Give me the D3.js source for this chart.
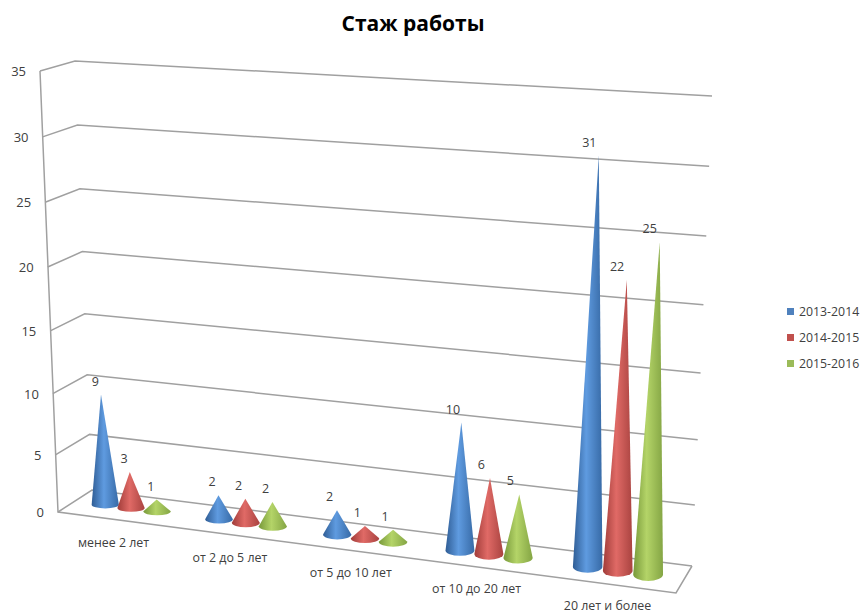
<!DOCTYPE html>
<html lang="ru">

<head>
    <meta charset="UTF-8">
    <title>Стаж работы</title>
    <script src="https://d3js.org/d3.v7.min.js"></script>
    <style>
        body { margin: 0; background: #fff; }
        text { font-family: "Open Sans", sans-serif; fill: #404040; }
        .grid { stroke: #a0a0a0; stroke-width: 1.5px; fill: none; }
    </style>
</head>

<body>
    <svg id="chart" width="863" height="614"></svg>
    <script>
        const categories = ['менее 2 лет', 'от 2 до 5 лет', 'от 5 до 10 лет', 'от 10 до 20 лет', '20 лет и более'];
        const seriesNames = ['2013-2014', '2014-2015', '2015-2016'];
        const values2013 = [9, 2, 2, 10, 31];
        const values2014 = [3, 2, 1, 6, 22];
        const values2015 = [1, 2, 1, 5, 25];
        const seriesValues = [values2013, values2014, values2015];
        const yTicks = [0, 5, 10, 15, 20, 25, 30, 35];
        const flatColors = ['#4f81bd', '#c0504d', '#9bbb59'];
        const shades = [['#2f5d95', '#5f9be0', '#376aa6'], ['#a03c39', '#e06a66', '#a94340'], ['#78993a', '#b4d468', '#84a544']];

        const svg = d3.select('#chart');

        // wall edges of the 3d box, value -> position
        const edge = (x0, x35, y0, y35) => ({
            x: d3.scaleLinear().domain([0, 35]).range([x0, x35]),
            y: d3.scalePow().exponent(1.05).domain([0, 35]).range([y0, y35])
        });
        const frontLeft = edge(58, 40, 512, 71);
        const backLeft = edge(92, 75, 490, 61);
        const backRight = edge(692, 712, 566, 96);
        const frontRight = [676, 593];

        // floor perspective: unit square (u along categories, d into depth) to screen
        function makeFloor(p0, p1, p2, p3) {
            const dx1 = p1[0] - p2[0], dx2 = p3[0] - p2[0], sx = p0[0] - p1[0] + p2[0] - p3[0];
            const dy1 = p1[1] - p2[1], dy2 = p3[1] - p2[1], sy = p0[1] - p1[1] + p2[1] - p3[1];
            const den = dx1 * dy2 - dx2 * dy1;
            const g = (sx * dy2 - dx2 * sy) / den;
            const h = (dx1 * sy - sx * dy1) / den;
            const a = p1[0] - p0[0] + g * p1[0], b = p3[0] - p0[0] + h * p3[0];
            const d = p1[1] - p0[1] + g * p1[1], e = p3[1] - p0[1] + h * p3[1];
            return (u, v) => {
                const w = g * u + h * v + 1;
                return [(a * u + b * v + p0[0]) / w, (d * u + e * v + p0[1]) / w];
            };
        }
        const floor = makeFloor(
            [frontLeft.x(0), frontLeft.y(0)], frontRight,
            [backRight.x(0), backRight.y(0)], [backLeft.x(0), backLeft.y(0)]
        );

        const catScale = d3.scaleBand().domain(d3.range(categories.length)).range([0, 1]);
        const seriesScale = d3.scalePoint().domain(d3.range(seriesNames.length)).range([-0.046, 0.046]);
        // cone height for value 35 at a given screen x
        const fullHeight = d3.scaleLinear().domain([100, 600]).range([440, 466]);
        const heightShare = d3.scalePow().exponent(1.02).domain([0, 35]).range([0, 1]);
        // sideways drift of the apex per unit of value
        const lean = d3.scaleLinear().domain([380, 692]).range([0, 0.54]);
        const radiusX = d3.scaleLinear().domain([58, 692]).range([13.5, 15]);
        const radiusY = d3.scaleLinear().domain([58, 692]).range([3.5, 6.5]);
        const labelShift = d3.scaleLinear().domain([100, 650]).range([-5.5, -10]);
        const labelDrop = d3.scaleLinear().domain([0, 1]).range([28, 25.5]);

        // gradients
        const defs = svg.append('defs');
        shades.forEach((s, i) => {
            const g = defs.append('linearGradient').attr('id', 'cone' + i);
            g.append('stop').attr('offset', '0%').attr('stop-color', s[0]);
            g.append('stop').attr('offset', '45%').attr('stop-color', s[1]);
            g.append('stop').attr('offset', '100%').attr('stop-color', s[2]);
        });

        // walls and floor
        const grid = svg.append('g');
        const line = pts => grid.append('path').attr('class', 'grid').attr('d', d3.line()(pts));
        yTicks.forEach(t => {
            line([[frontLeft.x(t), frontLeft.y(t)], [backLeft.x(t), backLeft.y(t)], [backRight.x(t), backRight.y(t)]]);
            svg.append('text')
                .attr('x', frontLeft.x(t) - 14)
                .attr('y', frontLeft.y(t) + 5)
                .attr('text-anchor', 'end')
                .attr('font-size', 13)
                .text(t);
        });
        line([[frontLeft.x(35), frontLeft.y(35)], [frontLeft.x(0), frontLeft.y(0)], frontRight, [backRight.x(0), backRight.y(0)]]);

        // cones
        const cones = svg.append('g');
        categories.forEach((c, i) => {
            const center = catScale(i) + catScale.bandwidth() / 2;
            seriesNames.forEach((name, s) => {
                const value = seriesValues[s][i];
                const base = floor(center + seriesScale(s), 0.5);
                const rx = radiusX(base[0]);
                const ry = radiusY(base[0]);
                const topX = base[0] + lean(base[0]) * value;
                const topY = base[1] - fullHeight(base[0]) * heightShare(value);
                cones.append('path')
                    .attr('fill', `url(#cone${s})`)
                    .attr('d', `M${base[0] - rx},${base[1]} A${rx},${ry} 0 0 0 ${base[0] + rx},${base[1]} L${topX},${topY} Z`);
                svg.append('text')
                    .attr('x', topX + labelShift(base[0]))
                    .attr('y', topY - 9)
                    .attr('text-anchor', 'middle')
                    .attr('font-size', 12.5)
                    .text(value);
            });
            const front = floor(center, 0);
            svg.append('text')
                .attr('x', front[0] - 1)
                .attr('y', front[1] + labelDrop(center))
                .attr('text-anchor', 'middle')
                .attr('font-size', 12.4)
                .text(c);
        });

        // title
        svg.append('text')
            .attr('x', 413)
            .attr('y', 31)
            .attr('text-anchor', 'middle')
            .attr('font-size', 21)
            .attr('font-weight', 'bold')
            .style('fill', '#000')
            .text('Стаж работы');

        // legend
        const legendY = d3.scalePoint().domain(seriesNames).range([312, 364]);
        seriesNames.forEach((name, i) => {
            svg.append('rect')
                .attr('x', 787)
                .attr('y', legendY(name) - 4)
                .attr('width', 7)
                .attr('height', 7)
                .attr('fill', flatColors[i]);
            svg.append('text')
                .attr('x', 799)
                .attr('y', legendY(name) + 4)
                .attr('font-size', 12.3)
                .text(name);
        });
    </script>
</body>

</html>
